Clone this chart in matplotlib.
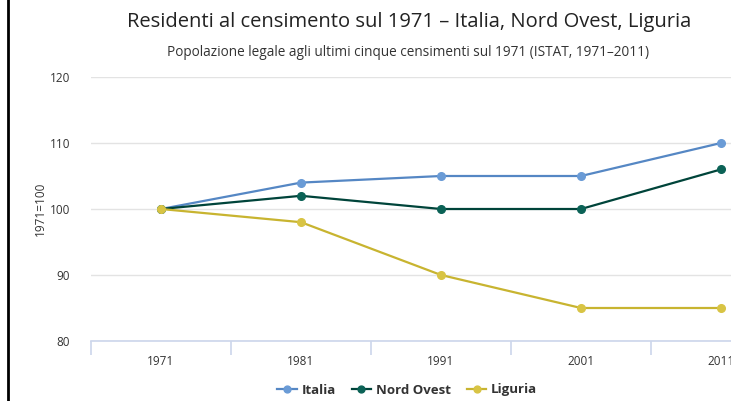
import matplotlib
matplotlib.use('Agg')
import matplotlib.pyplot as plt
from matplotlib.lines import Line2D

# Popolazione legale ai censimenti, indice 1971=100
anni = ['1971', '1981', '1991', '2001', '2011']
italia = [100, 104, 105, 105, 110]
nord_ovest = [100, 102, 100, 100, 106]
liguria = [100, 98, 90, 85, 85]

serie = [
    ('Italia', italia, '#5587c4', '#6a9bd6'),
    ('Nord Ovest', nord_ovest, '#00443a', '#0b6256'),
    ('Liguria', liguria, '#c8b430', '#d8c444'),
]

plt.rcParams['font.family'] = ['Open Sans', 'DejaVu Sans']

W, H = 731, 401
fig = plt.figure(figsize=(W / 100, H / 100), dpi=100)
# l'asse delle categorie prosegue oltre il bordo destro
ax = fig.add_axes([91 / W, 60 / H, 700 / W, 264 / H])

x = list(range(len(anni)))
for nome, valori, col, col_m in serie:
    ax.plot(x, valori, color=col, lw=1.6, marker='o', ms=5.5,
            markerfacecolor=col_m, markeredgecolor=col_m, label=nome, zorder=3)

ax.set_xlim(-0.5, len(anni) - 0.5)
ax.set_ylim(80, 120)
ax.set_yticks([80, 90, 100, 110, 120])
ax.set_xticks(x)
ax.set_xticklabels(anni)
ax.set_xticks([i - 0.5 for i in range(len(anni) + 1)], minor=True)

ax.grid(axis='y', color='#e3e3e3', lw=1)
ax.set_axisbelow(True)
for s in ['top', 'right', 'left']:
    ax.spines[s].set_visible(False)
ax.spines['bottom'].set_color('#ccd6eb')
ax.spines['bottom'].set_linewidth(1.2)

ax.tick_params(axis='y', length=0, pad=15, labelsize=8.5, labelcolor='#333333')
ax.tick_params(axis='x', which='major', length=0, pad=10, labelsize=8.5, labelcolor='#333333')
ax.tick_params(axis='x', which='minor', length=10, width=1.2, color='#ccd6eb')

ax.set_ylabel('1971=100', fontsize=8.5, color='#333333', labelpad=2)

fig.text(0.56, 1 - 22 / H, 'Residenti al censimento sul 1971 – Italia, Nord Ovest, Liguria',
         ha='center', va='center', fontsize=14.5, color='#222222')
fig.text(0.558, 1 - 52 / H, 'Popolazione legale agli ultimi cinque censimenti sul 1971 (ISTAT, 1971–2011)',
         ha='center', va='center', fontsize=9.8, color='#333333')

leg = fig.legend(loc='center', bbox_to_anchor=(0.557, 1 - 390 / H), ncol=3, frameon=False,
                 prop={'weight': 'bold', 'size': 9.5}, handlelength=1.5,
                 columnspacing=1.2, handletextpad=0.35, markerscale=0.9)
for t in leg.get_texts():
    t.set_color('#333333')

# filetto nero sul lato sinistro
fig.add_artist(Line2D([8 / W, 8 / W], [0, 1], color='black', lw=2, transform=fig.transFigure))

fig.savefig('out.png', dpi=100)
